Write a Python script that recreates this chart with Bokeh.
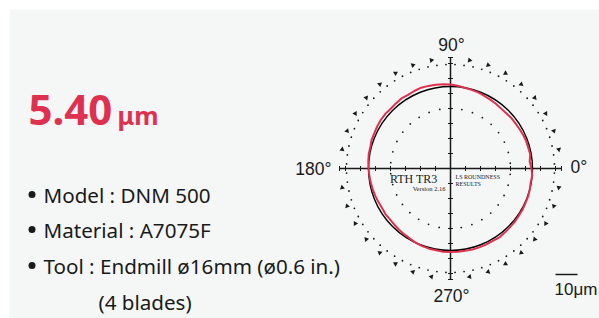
import numpy as np
from bokeh.plotting import figure
from bokeh.models import Range1d
from bokeh.core.properties import value
from bokeh.embed import file_html
from bokeh.resources import INLINE

# ---------------- data ----------------
roundness_value = "5.40"
roundness_unit = "μm"
spec_lines = ["Model : DNM 500", "Material : A7075F", "Tool : Endmill ø16mm (ø0.6 in.)"]
spec_continuation = "(4 blades)"
angle_labels = ["0°", "90°", "180°", "270°"]
scale_bar_um = 10
scale_bar_label = "10μm"
title_lines = ["RTH TR3", "Version 2.16"]
result_lines = ["LS ROUNDNESS", "RESULTS"]

# measured profile: deviation from LS circle (μm) every 5 degrees
profile_angle_deg = list(range(0, 360, 5))
profile_dev_um = [
    -0.45, -1.15, -0.45, -0.70, -0.70, -0.90, -1.15, -1.35, -1.35, -1.60,
    -1.60, -1.35, -1.15, -0.90, -0.45, -0.25, 0.00, 0.45, 0.90, 1.15,
    1.35, 1.60, 1.80, 1.60, 1.35, 1.60, 1.35, 1.15, 1.35, 1.35,
    1.15, 0.90, 0.90, 0.45, 0.45, 0.25, 0.00, -0.25, -0.45, -0.70,
    -0.90, -1.15, -1.35, -1.15, -1.35, -1.15, -0.90, -0.70, -0.45, 0.00,
    0.25, 0.45, 0.45, 0.70, 0.70, 0.70, 0.70, 0.90, 0.90, 0.90,
    0.90, 1.15, 0.90, 0.70, 0.70, 0.45, 0.45, 0.25, 0.25, 0.00,
    -0.25, 0.00,
]

# ---------------- layout constants ----------------
PX_PER_UM = 2.2          # magnification of the polar chart (10 μm bar = 22 units)
R_BASE = 82              # LS reference circle
R_INNER = 60             # inner dotted ring
R_DOTS = 104             # outer dotted ring
R_TRI = 110              # outer triangle marks
AXIS_EXT = 111
TICK_STEP = 15
RED = "#e0304f"
BG = "#f5f7f7"
INK = "#1a1a1a"
BL = 0.38                # baseline compensation (fraction of font size)

p = figure(width=599, height=318, x_range=Range1d(-441, 149), y_range=Range1d(-150, 159),
           output_backend="svg", toolbar_location=None, x_axis_type=None, y_axis_type=None,
           min_border_left=9, min_border_top=9, min_border_right=0, min_border_bottom=0,
           background_fill_color=BG, border_fill_color="white")
p.outline_line_color = None
p.grid.visible = False


def txt(x, y, s, font, size, color=INK, align="left", style="normal"):
    ys = [v + BL * size for v in y]
    p.text(x=x, y=ys, text=s, text_font=value(font), text_font_size=value(f"{size}px"),
           text_color=color, text_align=align, text_baseline="alphabetic", text_font_style=style)


# dotted rings
a_in = np.deg2rad(np.arange(5, 360, 360 / 34))
p.scatter(R_INNER * np.cos(a_in), R_INNER * np.sin(a_in), size=1.8, color=INK, line_color=None)
a_out = np.deg2rad(np.arange(2.5, 360, 5))
p.scatter(R_DOTS * np.cos(a_out), R_DOTS * np.sin(a_out), size=1.8, color=INK, line_color=None)
tri_deg = np.array([a for a in range(10, 360, 10) if a % 90 != 0])
tri = np.deg2rad(tri_deg)
p.scatter(R_TRI * np.cos(tri), R_TRI * np.sin(tri), marker="triangle", size=5,
          angle=tri - np.pi, color=INK, line_color=None)

# axes with ticks
p.segment(x0=[-AXIS_EXT, 0], y0=[0, -AXIS_EXT], x1=[AXIS_EXT, 0], y1=[0, AXIS_EXT],
          line_color=INK, line_width=1.5)
tk = np.array([t for t in range(-105, 106, TICK_STEP) if t != 0] + [-AXIS_EXT, AXIS_EXT])
p.segment(x0=tk, y0=np.full(len(tk), -2.5), x1=tk, y1=np.full(len(tk), 2.5), line_color=INK, line_width=1)
p.segment(x0=np.full(len(tk), -2.5), y0=tk, x1=np.full(len(tk), 2.5), y1=tk, line_color=INK, line_width=1)

# LS circle and measured profile
p.circle(x=[0], y=[0], radius=R_BASE, fill_color=None, line_color="black", line_width=1.4)
ang = np.deg2rad(np.array(profile_angle_deg + [profile_angle_deg[0]]))
rad = R_BASE + PX_PER_UM * np.array(profile_dev_um + [profile_dev_um[0]])
p.line(rad * np.cos(ang), rad * np.sin(ang), line_color=RED, line_width=2)

# angle labels
DEG = "Liberation Sans"
txt([120], [-5.3], [angle_labels[0]], DEG, 17.5)
txt([1], [116.5], [angle_labels[1]], DEG, 17.5, align="center")
txt([-119], [-7], [angle_labels[2]], DEG, 17.5, align="right")
txt([1], [-133.7], [angle_labels[3]], DEG, 17.5, align="center")

# inner captions
SERIF = "Liberation Serif"
txt([-13], [-15.3], [title_lines[0]], SERIF, 12, align="right")
txt([-5], [-22], [title_lines[1]], SERIF, 6.5, align="right")
txt([5, 5], [-11, -18], result_lines, SERIF, 6)

# scale bar
bx0 = 105
p.segment(x0=[bx0], y0=[-106], x1=[bx0 + scale_bar_um * PX_PER_UM], y1=[-106], line_color=INK, line_width=1.5)
txt([bx0 - 1], [-127], [scale_bar_label], DEG, 17)

# left-side texts
SANS = "Noto Sans"
txt([-422], [43], [roundness_value], SANS, 42, color=RED, style="bold")
txt([-333], [44], [roundness_unit], SANS, 25, color=RED, style="bold")
base_y = [-34, -69, -105]
p.scatter(x=[-418.5] * 3, y=[b + 8 for b in base_y], size=7, color=INK, line_color=None)
txt([-407] * 3, base_y, spec_lines, SANS, 20.6)
txt([-352], [-141], [spec_continuation], SANS, 20.6)

open("out.html", "w").write(file_html(p, INLINE))
